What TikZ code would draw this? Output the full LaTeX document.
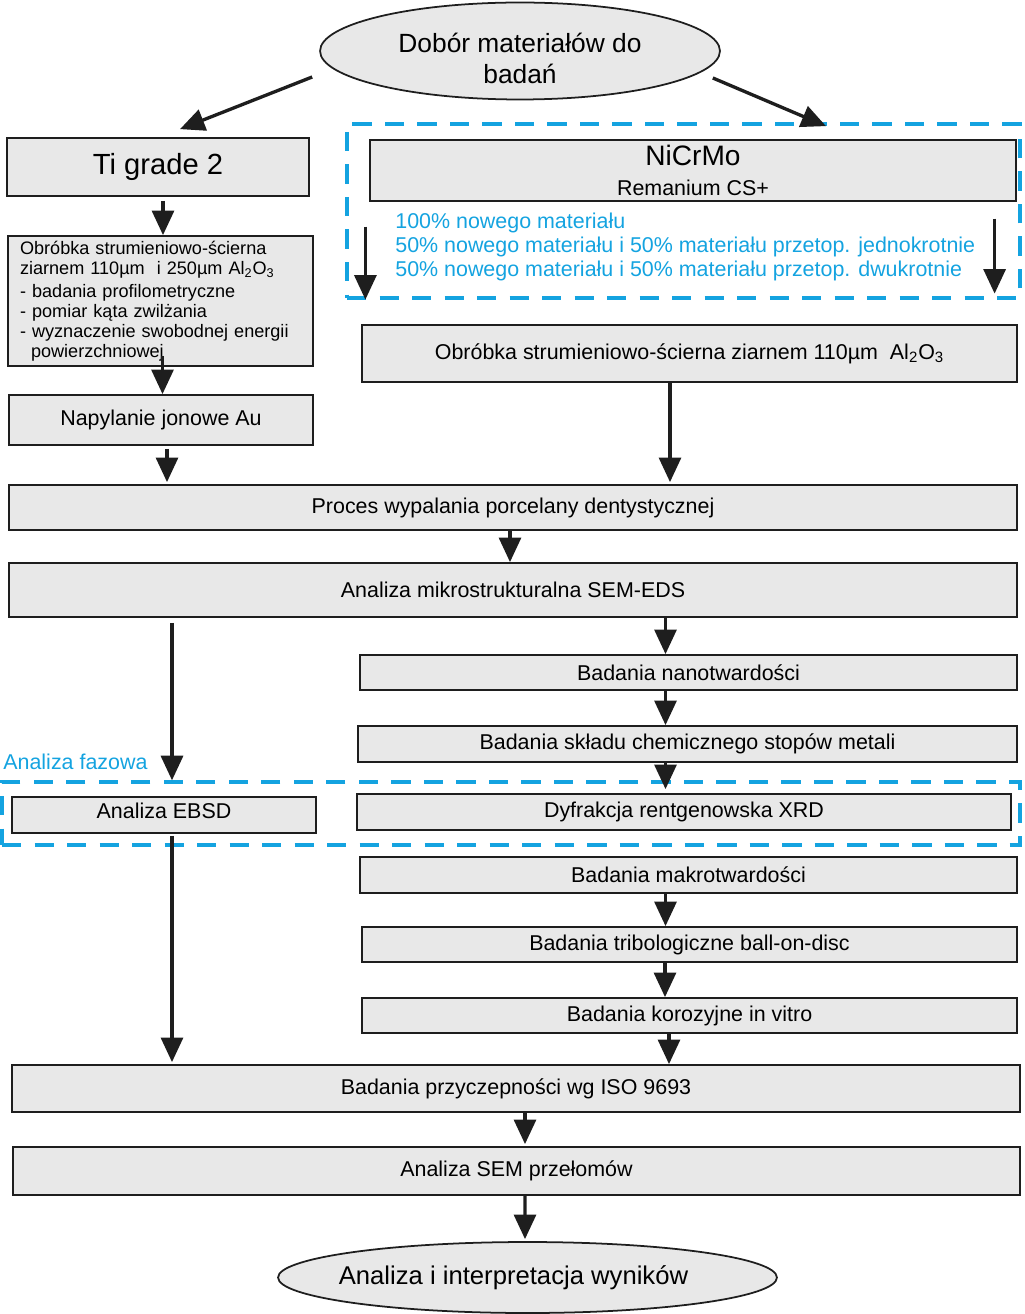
\documentclass[tikz,border=0pt]{standalone}
\usepackage{fontspec}
\setmainfont{Liberation Sans}
\usepackage{tikz}
\usetikzlibrary{shapes.geometric, arrows.meta, positioning, calc}
\definecolor{fazablue}{RGB}{20,163,224}
\definecolor{boxgray}{RGB}{232,232,232}
\definecolor{linegray}{RGB}{30,30,30}

\begin{document}
\begin{tikzpicture}[
    x=0.02cm, y=-0.02cm,
    box/.style={rectangle, draw=linegray, line width=1pt, fill=boxgray, align=center, inner sep=0pt, font=\fontsize{12.2}{14}\selectfont},
    oval/.style={ellipse, draw=linegray, line width=1pt, fill=boxgray, align=center, inner sep=0pt},
    group/.style={rectangle, draw=fazablue, line width=1.9pt, dash pattern=on 11pt off 7.5pt},
    arrow/.style={-{Triangle[length=14pt, width=12.5pt]}, line width=1.9pt, draw=linegray},
    bluetext/.style={text=fazablue, font=\fontsize{12.2}{13.6}\selectfont}
]
\useasboundingbox (0,0) rectangle (1024,1314);

% Start
\node[oval, minimum width=8cm, minimum height=1.94cm] (dobor) at (520,51) {};
\node[align=center, inner sep=0pt, font=\fontsize{15}{17.6}\selectfont] (dobortext) at ($(dobor.center)+(0,7)$) {Dobór materiałów do\\badań};

% Ti grade 2 branch
\node[box, minimum width=6.04cm, minimum height=1.16cm, font=\fontsize{16.6}{19}\selectfont] (ti) at (158,167) {Ti grade 2};
\node[box, minimum width=6.1cm, minimum height=2.6cm, align=left, text width=5.62cm, inner xsep=0.24cm, font=\fontsize{10.3}{11.3}\selectfont] (obl) at (160.5,301) {Obróbka strumieniowo-ścierna\\ziarnem 110µm\ \ i 250µm Al\textsubscript{2}O\textsubscript{3}\\[2pt]- badania profilometryczne\\- pomiar kąta zwilżania\\- wyznaczenie swobodnej energii\\\hspace*{0.22cm}powierzchniowej};
\node[box, minimum width=6.08cm, minimum height=1cm] (nap) at (161,420) {Napylanie jonowe Au};

% NiCrMo branch
\node[group, minimum width=13.46cm, minimum height=3.48cm] (nigroup) at (683.5,211) {};
\node[box, minimum width=12.92cm, minimum height=1.22cm] (nicr) at (693,170.5) {{\fontsize{16}{18}\selectfont NiCrMo}\\[3pt]Remanium CS+};
\node[bluetext, anchor=west, align=left, inner sep=0pt] (mix) at (395,247) {100\% nowego materiału\\50\% nowego materiału i 50\% materiału przetop. jednokrotnie\\50\% nowego materiału i 50\% materiału przetop. dwukrotnie};
\node[box, minimum width=13.1cm, minimum height=1.14cm] (obr) at (689.5,353.5) {Obróbka strumieniowo-ścierna ziarnem 110µm\ \ Al\textsubscript{2}O\textsubscript{3}};

% Common steps
\node[box, minimum width=20.16cm, minimum height=0.9cm] (proc) at (513,507.5) {Proces wypalania porcelany dentystycznej};
\node[box, minimum width=20.16cm, minimum height=1.08cm] (sem) at (513,590) {Analiza mikrostrukturalna SEM-EDS};
\node[box, minimum width=13.14cm, minimum height=0.7cm] (nano) at (688.5,672.5) {Badania nanotwardości};
\node[box, minimum width=13.18cm, minimum height=0.72cm] (sklad) at (687.5,744) {Badania składu chemicznego stopów metali};

% Analiza fazowa
\node[group, minimum width=20.36cm, minimum height=1.26cm] (faz) at (511,813.5) {};
\node[bluetext, anchor=west, inner sep=0pt] (fazlabel) at (3,762) {Analiza fazowa};
\node[box, minimum width=6.08cm, minimum height=0.72cm, text depth=0.18cm] (ebsd) at (164,815) {Analiza EBSD};
\node[box, minimum width=13.08cm, minimum height=0.72cm] (xrd) at (684,812) {Dyfrakcja rentgenowska XRD};

\node[box, minimum width=13.14cm, minimum height=0.72cm] (makro) at (688.5,875) {Badania makrotwardości};
\node[box, minimum width=13.1cm, minimum height=0.7cm] (tri) at (689.5,944.5) {Badania tribologiczne ball-on-disc};
\node[box, minimum width=13.1cm, minimum height=0.7cm] (koro) at (689.5,1015.5) {Badania korozyjne in vitro};
\node[box, minimum width=20.16cm, minimum height=0.94cm] (przy) at (516,1088.5) {Badania przyczepności wg ISO 9693};
\node[box, minimum width=20.14cm, minimum height=0.96cm] (semp) at (516.5,1171) {Analiza SEM przełomów};

% End
\node[oval, minimum width=9.98cm, minimum height=1.42cm] (koniec) at (527.5,1277.5) {};
\node[inner sep=0pt, font=\fontsize{14.6}{17}\selectfont] (koniectext) at ($(koniec.center)+(-14,0)$) {Analiza i interpretacja wyników};

% Arrows
\draw[arrow] ($(dobor.west)+(-7,26)$) -- ($(ti.north)+(22,-8)$);
\draw[arrow] ($(dobor.east)+(-8,27)$) -- ($(nicr.north)+(133,-13)$);
\draw[arrow] ($(ti.south)+(5,4)$) -- ($(ti.south |- obl.north)+(5,0)$);
\draw[arrow] ($(nigroup.south west)+(20,-73)$) -- ($(nigroup.south west)+(20,0)$);
\draw[arrow] ($(nigroup.south east)+(-27,-81)$) -- ($(nigroup.south east)+(-27,-6)$);
\draw[arrow] ($(obl.south)+(2,-11)$) -- ($(obl.south |- nap.north)+(2,0)$);
\draw[arrow] ($(obr.south)+(-19.5,0)$) -- ($(obr.south |- proc.north)+(-19.5,-2)$);
\draw[arrow] ($(nap.south)+(6,3)$) -- ($(nap.south |- proc.north)+(6,-2)$);
\draw[arrow] ($(proc.south)+(-3,0)$) -- ($(proc.south |- sem.north)+(-3,0)$);
\draw[arrow] ($(sem.south -| ebsd.north)+(8,5)$) -- ($(faz.north -| ebsd.north)+(8,0)$);
\draw[arrow] ($(sem.south -| nano.north)+(-23,0)$) -- ($(nano.north)+(-23,0)$);
\draw[arrow] ($(nano.south)+(-23,0)$) -- ($(nano.south |- sklad.north)+(-23,0)$);
\draw[arrow] ($(sklad.south)+(-22,0)$) -- ($(sklad.south |- xrd.north)+(-22,-4)$);
\draw[arrow] ($(makro.south)+(-23,0)$) -- ($(makro.south |- tri.north)+(-23,0)$);
\draw[arrow] ($(tri.south)+(-24.5,0)$) -- ($(tri.south |- koro.north)+(-24.5,0)$);
\draw[arrow] ($(koro.south)+(-20.5,0)$) -- ($(koro.south |- przy.north)+(-20.5,0)$);
\draw[arrow] ($(ebsd.south)+(8,2)$) -- ($(ebsd.south |- przy.north)+(8,-2)$);
\draw[arrow] ($(przy.south)+(9,0)$) -- ($(przy.south |- semp.north)+(9,-2)$);
\draw[arrow] ($(semp.south)+(8.5,0)$) -- ($(koniec.north)+(-2.5,-2)$);

\end{tikzpicture}
\end{document}
